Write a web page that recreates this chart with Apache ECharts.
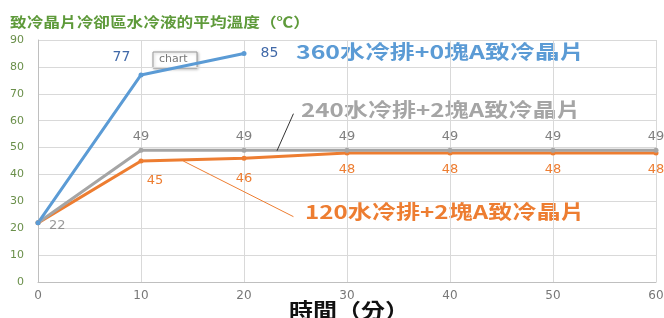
<!DOCTYPE html>
<html>
<head>
<meta charset="utf-8">
<title>致冷晶片冷卻區水冷液的平均溫度</title>
<script src="https://cdn.jsdelivr.net/npm/echarts@6/dist/echarts.min.js"></script>
<style>
body{margin:0;background:#fff;}
#chart{width:664px;height:318px;}
</style>
</head>
<body>
<div id="chart"></div>
<script>

const minutes=[0,10,20,30,40,50,60]
const s360=[22,77,85]
const s240=[22,49,49,49,49,49,49]
const s120=[22,45,46,48,48,48,48]
const names=["360水冷排+0塊A致冷晶片","240水冷排+2塊A致冷晶片","120水冷排+2塊A致冷晶片"]

const font='"Noto Sans CJK TC","Noto Sans",sans-serif'
const numFont='"DejaVu Sans",sans-serif'

function pairs(vals){
  return vals.map((v,i)=>[minutes[i],v])
}

// wide text, like the source picture's font
function wide(text,x,y,color,size,sx){
  return {type:"text",x:x,y:y,scaleX:sx,silent:true,
    style:{text:text,fill:color,font:"bold "+size+"px "+font,verticalAlign:"top"}}
}

const chart=echarts.init(document.getElementById("chart"))

chart.setOption({
  animation:false,
  grid:{left:38,right:8,top:40,bottom:36,outerBoundsMode:"none"},
  xAxis:{
    type:"value",min:0,max:60,interval:10,
    axisLine:{lineStyle:{color:"#bfbfbf"}},
    axisTick:{show:false},
    axisLabel:{color:"#777",fontSize:12,fontFamily:numFont,margin:8},
    splitLine:{lineStyle:{color:"#d9d9d9"}}
  },
  yAxis:{
    type:"value",min:0,max:90,interval:10,
    axisLine:{show:true,lineStyle:{color:"#bfbfbf"}},
    axisTick:{show:false},
    axisLabel:{color:"#6a8f4a",fontSize:11,fontFamily:numFont,margin:14},
    splitLine:{lineStyle:{color:"#d9d9d9"}}
  },
  series:[
    {
      name:names[2],type:"line",data:pairs(s120),
      symbol:"circle",symbolSize:5,
      lineStyle:{color:"#ed7d31",width:3},
      itemStyle:{color:"#ed7d31"},
      label:{show:true,position:"bottom",distance:8,color:"#ed7d31",fontSize:13,fontFamily:numFont,
        formatter:p=>p.dataIndex===0?"":p.value[1]},
      labelLayout:p=>p.dataIndex===1?{dx:14,dy:3}:(p.dataIndex===2?{dy:3}:{}),
      markLine:{
        silent:true,symbol:"none",label:{show:false},
        lineStyle:{color:"#ed7d31",width:1,type:"solid"},
        data:[[{coord:[14.1,45]},{coord:[24.8,24.3]}]]
      }
    },
    {
      name:names[1],type:"line",data:pairs(s240),
      symbol:"circle",symbolSize:5,
      lineStyle:{color:"#a5a5a5",width:3},
      itemStyle:{color:"#a5a5a5"},
      label:{show:true,position:"top",distance:5,color:"#7f7f7f",fontSize:13,fontFamily:numFont,
        formatter:p=>p.dataIndex===0?"":p.value[1]},
      markLine:{
        silent:true,symbol:"none",label:{show:false},
        lineStyle:{color:"#333",width:1,type:"solid"},
        data:[[{coord:[23.2,48.8]},{coord:[24.8,62.6]}]]
      }
    },
    {
      name:names[0],type:"line",data:pairs(s360),
      symbol:"circle",symbolSize:5,
      lineStyle:{color:"#5b9bd5",width:3},
      itemStyle:{color:"#5b9bd5"},
      label:{show:true,position:"right",distance:14,color:"#4169a8",fontSize:14,fontFamily:numFont,
        formatter:p=>p.dataIndex===0?"":p.value[1]},
      labelLayout:p=>p.dataIndex===1?{dx:-45,dy:-18}:{}
    },
    {
      type:"scatter",data:[[0,22]],symbolSize:0,silent:true,
      label:{show:true,position:"right",offset:[6,3],color:"#7f7f7f",fontSize:13,fontFamily:numFont,formatter:"22"}
    }
  ],
  graphic:[
    wide("致冷晶片冷卻區水冷液的平均溫度（℃）",10,15,"#5e9a3a",14,1.19),
    wide(names[0],296,42,"#5b9bd5",19,1.31),
    wide(names[1],301,100,"#a5a5a5",19,1.27),
    wide(names[2],305,202,"#ed7d31",19,1.27),
    wide("時間（分）",289,300,"#111",20,1.2),
    {type:"group",x:153,y:52,children:[
      {type:"rect",shape:{x:0,y:0,width:44,height:16},style:{fill:"#fff",stroke:"#999",lineWidth:1,shadowBlur:3,shadowColor:"rgba(0,0,0,0.25)",shadowOffsetX:1,shadowOffsetY:1}},
      {type:"text",x:6,y:2,style:{text:"chart",fill:"#777",font:"11px "+numFont}}
    ]}
  ]
})

</script>
</body>
</html>
